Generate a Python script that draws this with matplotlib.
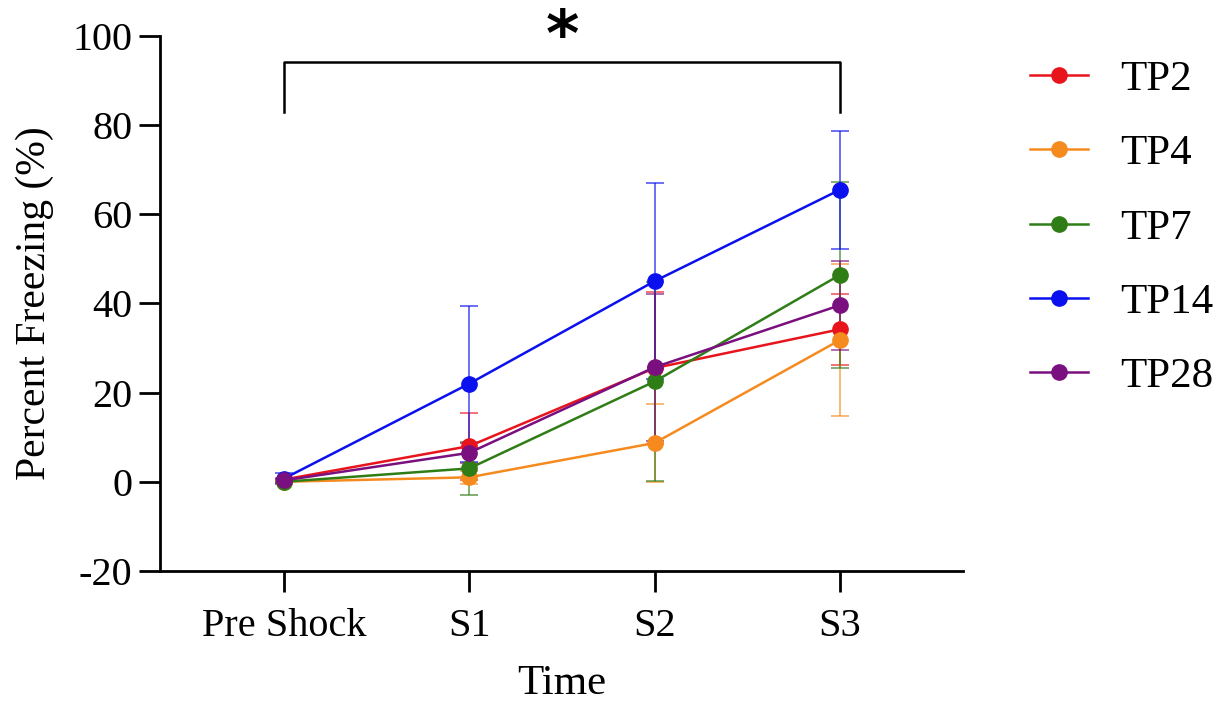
import numpy as np
import matplotlib
matplotlib.use('Agg')
import matplotlib.pyplot as plt
from matplotlib.colors import to_rgba

plt.rcParams['font.family'] = ['Liberation Serif', 'DejaVu Serif']
plt.rcParams['axes.unicode_minus'] = False

time_points = ['Pre Shock', 'S1', 'S2', 'S3']
groups = ['TP2', 'TP4', 'TP7', 'TP14', 'TP28']
colors = ['#e8141c', '#f58a1f', '#2f7d17', '#0b10ee', '#7a0f7f']

tp2_mean = [0.5, 8.0, 25.5, 34.2]
tp2_sem = [0.4, 7.5, 17.0, 8.0]
tp4_mean = [0.0, 1.0, 8.7, 31.8]
tp4_sem = [0.3, 1.5, 8.7, 17.0]
tp7_mean = [0.0, 3.0, 22.5, 46.4]
tp7_sem = [0.3, 6.0, 22.3, 20.8]
tp14_mean = [0.7, 22.0, 45.0, 65.5]
tp14_sem = [1.3, 17.5, 22.0, 13.2]
tp28_mean = [0.3, 6.5, 25.7, 39.6]
tp28_sem = [0.4, 2.2, 16.5, 10.0]

means = [tp2_mean, tp4_mean, tp7_mean, tp14_mean, tp28_mean]
sems = [tp2_sem, tp4_sem, tp7_sem, tp14_sem, tp28_sem]

fig = plt.figure(figsize=(12.27, 7.04), dpi=100)
ax = fig.add_axes([0.1304, 0.189, 0.6544, 0.760])

x = np.arange(len(time_points))
handles = []
for name, col, m, s in zip(groups, colors, means, sems):
    cont = ax.errorbar(x, m, yerr=s, color=col, ecolor=to_rgba(col, 0.65),
                       elinewidth=1.3, capsize=6.5, capthick=1.3,
                       linewidth=1.8, marker='o', markersize=11, label=name)
    handles.append(cont[0])

ax.set_xlim(-0.668, 3.663)
ax.set_ylim(-20, 100)
ax.set_yticks(np.arange(-20, 101, 20))
ax.set_xticks(x)
ax.set_xticklabels(time_points)

for side in ['top', 'right']:
    ax.spines[side].set_visible(False)
for side in ['left', 'bottom']:
    ax.spines[side].set_linewidth(2)
ax.tick_params(axis='both', direction='out', length=15, width=2,
               labelsize=29)
ax.tick_params(axis='x', pad=12)
ax.tick_params(axis='y', pad=5)

ax.set_ylabel('Percent Freezing (%)', fontsize=30, labelpad=13)
ax.set_xlabel('Time', fontsize=31, labelpad=14)

# significance bracket
ax.plot([0, 0, 3, 3], [83, 94.2, 94.2, 83], color='black', linewidth=1.8,
        clip_on=False)
ax.text(1.5, 99.6, '*', fontsize=46, fontweight='bold', ha='center',
        va='center', clip_on=False, family='DejaVu Sans')

fig.legend(handles, groups, loc='center left',
           bbox_to_anchor=(1030 / 1227, 1 - 228 / 704),
           bbox_transform=fig.transFigure, frameon=False,
           fontsize=31, handlelength=1.35, labelspacing=0.82,
           handletextpad=0.74, borderpad=0, borderaxespad=0)

fig.savefig('out.png', dpi=100)
